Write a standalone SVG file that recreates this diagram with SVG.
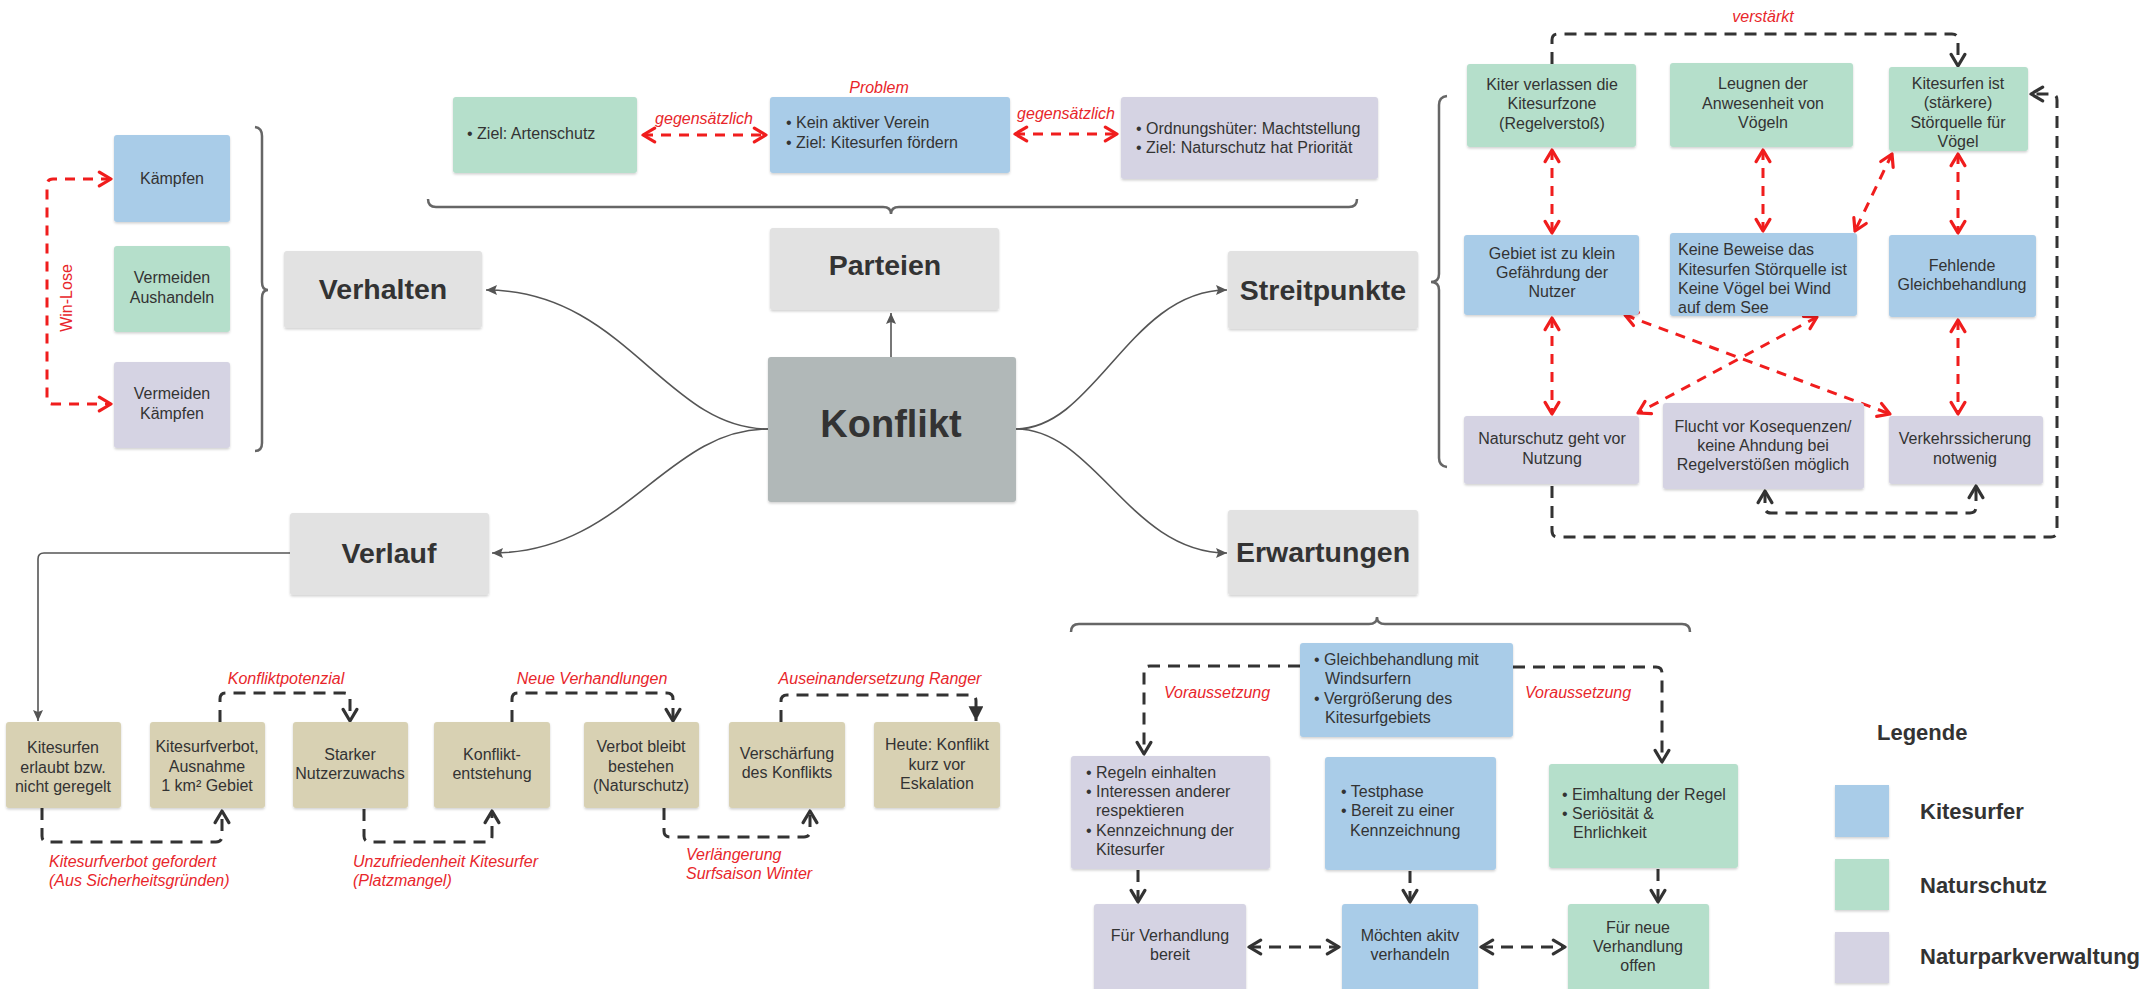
<svg xmlns="http://www.w3.org/2000/svg" width="2154" height="989" viewBox="0 0 2154 989">
<style>
text{font-family:"Liberation Sans",Arial,sans-serif;fill:#333;}
.t{font-size:16px;text-anchor:middle;}
.l{font-size:16px;}
.h{font-size:28.5px;font-weight:bold;text-anchor:middle;}
.r{font-size:16px;font-style:italic;fill:#e8262b;}
.rc{font-size:16px;font-style:italic;fill:#e8262b;text-anchor:middle;}
.lg{font-size:22px;font-weight:bold;}
.blue{fill:#a9cce8;}
.green{fill:#b5dfcb;}
.purple{fill:#d5d3e3;}
.tan{fill:#d8d1b3;}
.grey{fill:#e2e2e2;}
.konf{fill:#b1b8b8;}
rect{filter:url(#sh);}
.mm{fill:none;stroke:#555;stroke-width:1.6;}
.rd{fill:none;stroke:#f01d1d;stroke-width:3;stroke-dasharray:10 8;}
.kd{fill:none;stroke:#333;stroke-width:3;stroke-dasharray:12 8;}
.br{fill:none;stroke:#666;stroke-width:2.5;}
</style>
<defs>
<filter id="sh" x="-5%" y="-5%" width="110%" height="115%">
<feDropShadow dx="0" dy="1.5" stdDeviation="1" flood-color="#000" flood-opacity="0.18"/>
</filter>
<marker id="ro" markerUnits="userSpaceOnUse" markerWidth="18" markerHeight="18" viewBox="-2 -2 16 17" refX="11" refY="6.5" orient="auto-start-reverse">
<path d="M0,0 L11,6.5 L0,13" fill="none" stroke="#f01d1d" stroke-width="3" stroke-dasharray="none" stroke-linecap="round" stroke-linejoin="round"/>
</marker>
<marker id="ko" markerUnits="userSpaceOnUse" markerWidth="18" markerHeight="18" viewBox="-2 -2 16 17" refX="11" refY="6.5" orient="auto-start-reverse">
<path d="M0,0 L11,6.5 L0,13" fill="none" stroke="#333" stroke-width="3" stroke-dasharray="none" stroke-linecap="round" stroke-linejoin="round"/>
</marker>
<marker id="kf" markerUnits="userSpaceOnUse" markerWidth="16" markerHeight="16" viewBox="0 0 14 14" refX="13" refY="6.5" orient="auto">
<path d="M0,0 L13,6.5 L0,13 Z" fill="#333"/>
</marker>
<marker id="gf" markerUnits="userSpaceOnUse" markerWidth="12" markerHeight="12" viewBox="0 0 12 12" refX="11" refY="5" orient="auto">
<path d="M0,0 L11,5 L0,10 L2,5 Z" fill="#555"/>
</marker>
</defs>

<g id="braces">
<path class="br" d="M255,127 Q262,128 262,136 V282 Q262,290 268,290 Q262,290 262,298 V443 Q262,451 255,451"/>
<path class="br" d="M428,199 Q428,207 436,207 H883 Q891,207 891,214 Q891,207 899,207 H1349 Q1357,207 1357,199"/>
<path class="br" d="M1447,96 Q1439,97 1439,105 V274 Q1439,282 1431,282 Q1439,282 1439,290 V458 Q1439,466 1447,467"/>
<path class="br" d="M1071,632 Q1071,624 1079,624 H1369 Q1377,624 1377,617 Q1377,624 1385,624 H1682 Q1690,624 1690,632"/>
</g>

<g id="connectors">
<path class="mm" d="M768,429 C665,429 625,290 486,290" marker-end="url(#gf)"/>
<path class="mm" d="M768,429 C665,429 625,553 492,553" marker-end="url(#gf)"/>
<path class="mm" d="M1016,429 C1095,429 1130,290 1227,290" marker-end="url(#gf)"/>
<path class="mm" d="M1016,429 C1095,429 1130,553 1227,553" marker-end="url(#gf)"/>
<path class="mm" d="M891,357 V313" marker-end="url(#gf)"/>
<path class="mm" d="M290,553 H44 Q38,553 38,559 V721" marker-end="url(#gf)"/>

<path class="rd" d="M111,179 H53 Q47,179 47,185 V398 Q47,404 53,404 H111" marker-start="url(#ro)" marker-end="url(#ro)"/>

<path class="rd" d="M643,135 H766" marker-start="url(#ro)" marker-end="url(#ro)"/>
<path class="rd" d="M1015,134 H1117" marker-start="url(#ro)" marker-end="url(#ro)"/>

<path class="kd" d="M1552,64 V40 Q1552,34 1558,34 H1952 Q1958,34 1958,40 V66" marker-end="url(#ko)"/>
<path class="rd" d="M1552,150 V233" marker-start="url(#ro)" marker-end="url(#ro)"/>
<path class="rd" d="M1763,150 V231" marker-start="url(#ro)" marker-end="url(#ro)"/>
<path class="rd" d="M1892,154 L1855,231" marker-start="url(#ro)" marker-end="url(#ro)"/>
<path class="rd" d="M1958,154 V233" marker-start="url(#ro)" marker-end="url(#ro)"/>
<path class="rd" d="M1552,318 V414" marker-start="url(#ro)" marker-end="url(#ro)"/>
<path class="rd" d="M1958,320 V414" marker-start="url(#ro)" marker-end="url(#ro)"/>
<path class="rd" d="M1625,315 L1890,414" marker-start="url(#ro)" marker-end="url(#ro)"/>
<path class="rd" d="M1817,317 L1638,413" marker-start="url(#ro)" marker-end="url(#ro)"/>
<path class="kd" d="M1765,491 V507 Q1765,513 1771,513 H1970 Q1976,513 1976,507 V486" marker-start="url(#ko)" marker-end="url(#ko)"/>
<path class="kd" d="M1552,486 V531 Q1552,537 1558,537 H2051 Q2057,537 2057,531 V100 Q2057,94 2051,94 H2031" marker-end="url(#ko)"/>

<path class="kd" d="M220,722 V699 Q220,693 226,693 H344 Q350,693 350,699 V721" marker-end="url(#ko)"/>
<path class="kd" d="M512,722 V699 Q512,693 518,693 H667 Q673,693 673,699 V721" marker-end="url(#ko)"/>
<path class="kd" d="M781,722 V701 Q781,695 787,695 H970 Q976,695 976,701 V721" marker-end="url(#kf)"/>
<path class="kd" d="M42,808 V836 Q42,842 48,842 H216 Q222,842 222,836 V811" marker-end="url(#ko)"/>
<path class="kd" d="M364,809 V836 Q364,842 370,842 H486 Q492,842 492,836 V811" marker-end="url(#ko)"/>
<path class="kd" d="M664,808 V831 Q664,837 670,837 H804 Q810,837 810,831 V811" marker-end="url(#ko)"/>

<path class="kd" d="M1300,666 H1150 Q1144,666 1144,672 V754" marker-end="url(#ko)"/>
<path class="kd" d="M1513,667 H1656 Q1662,667 1662,673 V762" marker-end="url(#ko)"/>
<path class="kd" d="M1138,870 V902" marker-end="url(#ko)"/>
<path class="kd" d="M1410,871 V902" marker-end="url(#ko)"/>
<path class="kd" d="M1658,869 V902" marker-end="url(#ko)"/>
<path class="kd" d="M1249,947 H1339" marker-start="url(#ko)" marker-end="url(#ko)"/>
<path class="kd" d="M1481,947 H1565" marker-start="url(#ko)" marker-end="url(#ko)"/>
</g>

<g id="labels">
<text class="r" transform="translate(72,298) rotate(-90)" text-anchor="middle" style="font-style:normal">Win-Lose</text>
<text class="rc" x="879" y="93">Problem</text>
<text class="rc" x="704" y="124">gegensätzlich</text>
<text class="rc" x="1066" y="119">gegensätzlich</text>
<text class="rc" x="1763" y="22">verstärkt</text>
<text class="rc" x="286" y="684">Konfliktpotenzial</text>
<text class="rc" x="592" y="684">Neue Verhandlungen</text>
<text class="rc" x="880" y="684">Auseinandersetzung Ranger</text>
<text class="r" x="49" y="867">Kitesurfverbot gefordert</text>
<text class="r" x="49" y="886">(Aus Sicherheitsgründen)</text>
<text class="r" x="353" y="867">Unzufriedenheit Kitesurfer</text>
<text class="r" x="353" y="886">(Platzmangel)</text>
<text class="r" x="686" y="860">Verlängerung</text>
<text class="r" x="686" y="879">Surfsaison Winter</text>
<text class="r" x="1164" y="698">Voraussetzung</text>
<text class="r" x="1525" y="698">Voraussetzung</text>
</g>

<g id="n-konflikt"><rect class="konf" x="768" y="357" width="248" height="145" rx="3"/><text x="891" y="437" style="font-size:38px;font-weight:bold;text-anchor:middle">Konflikt</text></g>
<g id="n-parteien"><rect class="grey" x="770" y="228" width="229" height="82" rx="3"/><text class="h" x="885" y="275">Parteien</text></g>
<g id="n-verhalten"><rect class="grey" x="284" y="251" width="198" height="77" rx="3"/><text class="h" x="383" y="299">Verhalten</text></g>
<g id="n-streitpunkte"><rect class="grey" x="1228" y="251" width="190" height="78" rx="3"/><text class="h" x="1323" y="300">Streitpunkte</text></g>
<g id="n-verlauf"><rect class="grey" x="290" y="513" width="199" height="82" rx="3"/><text class="h" x="389" y="563">Verlauf</text></g>
<g id="n-erwartungen"><rect class="grey" x="1228" y="510" width="190" height="85" rx="3"/><text class="h" x="1323" y="562">Erwartungen</text></g>

<g id="n-kaempfen"><rect class="blue" x="114" y="135" width="116" height="87" rx="3"/><text class="t" x="172" y="184">Kämpfen</text></g>
<g id="n-aushandeln"><rect class="green" x="114" y="246" width="116" height="86" rx="3"/><text class="t" x="172" y="283">Vermeiden</text><text class="t" x="172" y="303">Aushandeln</text></g>
<g id="n-vkaempfen"><rect class="purple" x="114" y="362" width="116" height="86" rx="3"/><text class="t" x="172" y="399">Vermeiden</text><text class="t" x="172" y="419">Kämpfen</text></g>

<g id="n-p-natur"><rect class="green" x="453" y="97" width="184" height="76" rx="3"/><text class="l" x="467" y="139">• Ziel: Artenschutz</text></g>
<g id="n-p-kite"><rect class="blue" x="770" y="97" width="240" height="76" rx="3"/><text class="l" x="786" y="128">• Kein aktiver Verein</text><text class="l" x="786" y="148">• Ziel: Kitesurfen fördern</text></g>
<g id="n-p-park"><rect class="purple" x="1121" y="97" width="257" height="82" rx="3"/><text class="l" x="1136" y="134">• Ordnungshüter: Machtstellung</text><text class="l" x="1136" y="153">• Ziel: Naturschutz hat Priorität</text></g>

<g id="n-s-kiter"><rect class="green" x="1467" y="64" width="169" height="83" rx="3"/><text class="t" x="1552" y="90">Kiter verlassen die</text><text class="t" x="1552" y="109">Kitesurfzone</text><text class="t" x="1552" y="129">(Regelverstoß)</text></g>
<g id="n-s-leugnen"><rect class="green" x="1670" y="63" width="183" height="84" rx="3"/><text class="t" x="1763" y="89">Leugnen der</text><text class="t" x="1763" y="109">Anwesenheit von</text><text class="t" x="1763" y="128">Vögeln</text></g>
<g id="n-s-stoer"><rect class="green" x="1889" y="67" width="139" height="84" rx="3"/><text class="t" x="1958" y="89">Kitesurfen ist</text><text class="t" x="1958" y="108">(stärkere)</text><text class="t" x="1958" y="128">Störquelle für</text><text class="t" x="1958" y="147">Vögel</text></g>
<g id="n-s-gebiet"><rect class="blue" x="1464" y="235" width="175" height="80" rx="3"/><text class="t" x="1552" y="259">Gebiet ist zu klein</text><text class="t" x="1552" y="278">Gefährdung der</text><text class="t" x="1552" y="297">Nutzer</text></g>
<g id="n-s-beweise"><rect class="blue" x="1670" y="233" width="187" height="83" rx="3"/><text class="l" x="1678" y="255">Keine Beweise das</text><text class="l" x="1678" y="275">Kitesurfen Störquelle ist</text><text class="l" x="1678" y="294">Keine Vögel bei Wind</text><text class="l" x="1678" y="313">auf dem See</text></g>
<g id="n-s-gleich"><rect class="blue" x="1889" y="235" width="147" height="82" rx="3"/><text class="t" x="1962" y="271">Fehlende</text><text class="t" x="1962" y="290">Gleichbehandlung</text></g>
<g id="n-s-natur"><rect class="purple" x="1464" y="416" width="175" height="68" rx="3"/><text class="t" x="1552" y="444">Naturschutz geht vor</text><text class="t" x="1552" y="464">Nutzung</text></g>
<g id="n-s-flucht"><rect class="purple" x="1663" y="403" width="201" height="86" rx="3"/><text class="t" x="1763" y="432">Flucht vor Kosequenzen/</text><text class="t" x="1763" y="451">keine Ahndung bei</text><text class="t" x="1763" y="470">Regelverstößen möglich</text></g>
<g id="n-s-verkehr"><rect class="purple" x="1889" y="416" width="154" height="68" rx="3"/><text class="t" x="1965" y="444">Verkehrssicherung</text><text class="t" x="1965" y="464">notwenig</text></g>

<g id="n-v1"><rect class="tan" x="6" y="722" width="115" height="86" rx="3"/><text class="t" x="63" y="753">Kitesurfen</text><text class="t" x="63" y="773">erlaubt bzw.</text><text class="t" x="63" y="792">nicht geregelt</text></g>
<g id="n-v2"><rect class="tan" x="150" y="722" width="115" height="86" rx="3"/><text class="t" x="207" y="752">Kitesurfverbot,</text><text class="t" x="207" y="772">Ausnahme</text><text class="t" x="207" y="791">1 km² Gebiet</text></g>
<g id="n-v3"><rect class="tan" x="293" y="722" width="115" height="86" rx="3"/><text class="t" x="350" y="760">Starker</text><text class="t" x="350" y="779">Nutzerzuwachs</text></g>
<g id="n-v4"><rect class="tan" x="434" y="722" width="116" height="86" rx="3"/><text class="t" x="492" y="760">Konflikt-</text><text class="t" x="492" y="779">entstehung</text></g>
<g id="n-v5"><rect class="tan" x="584" y="722" width="115" height="86" rx="3"/><text class="t" x="641" y="752">Verbot bleibt</text><text class="t" x="641" y="772">bestehen</text><text class="t" x="641" y="791">(Naturschutz)</text></g>
<g id="n-v6"><rect class="tan" x="729" y="722" width="116" height="86" rx="3"/><text class="t" x="787" y="759">Verschärfung</text><text class="t" x="787" y="778">des Konflikts</text></g>
<g id="n-v7"><rect class="tan" x="874" y="722" width="126" height="86" rx="3"/><text class="t" x="937" y="750">Heute: Konflikt</text><text class="t" x="937" y="770">kurz vor</text><text class="t" x="937" y="789">Eskalation</text></g>

<g id="n-e-top"><rect class="blue" x="1300" y="643" width="213" height="94" rx="3"/><text class="l" x="1314" y="665">• Gleichbehandlung mit</text><text class="l" x="1325" y="684">Windsurfern</text><text class="l" x="1314" y="704">• Vergrößerung des</text><text class="l" x="1325" y="723">Kitesurfgebiets</text></g>
<g id="n-e-regeln"><rect class="purple" x="1071" y="756" width="199" height="113" rx="3"/><text class="l" x="1086" y="778">• Regeln einhalten</text><text class="l" x="1086" y="797">• Interessen anderer</text><text class="l" x="1096" y="816">respektieren</text><text class="l" x="1086" y="836">• Kennzeichnung der</text><text class="l" x="1096" y="855">Kitesurfer</text></g>
<g id="n-e-test"><rect class="blue" x="1325" y="757" width="171" height="113" rx="3"/><text class="l" x="1341" y="797">• Testphase</text><text class="l" x="1341" y="816">• Bereit zu einer</text><text class="l" x="1350" y="836">Kennzeichnung</text></g>
<g id="n-e-ehr"><rect class="green" x="1549" y="764" width="189" height="104" rx="3"/><text class="l" x="1562" y="800">• Eimhaltung der Regel</text><text class="l" x="1562" y="819">• Seriösität &amp;</text><text class="l" x="1573" y="838">Ehrlichkeit</text></g>
<g id="n-e-bereit"><rect class="purple" x="1094" y="904" width="152" height="100" rx="3"/><text class="t" x="1170" y="941">Für Verhandlung</text><text class="t" x="1170" y="960">bereit</text></g>
<g id="n-e-aktiv"><rect class="blue" x="1342" y="904" width="136" height="100" rx="3"/><text class="t" x="1410" y="941">Möchten akitv</text><text class="t" x="1410" y="960">verhandeln</text></g>
<g id="n-e-offen"><rect class="green" x="1568" y="904" width="141" height="100" rx="3"/><text class="t" x="1638" y="933">Für neue</text><text class="t" x="1638" y="952">Verhandlung</text><text class="t" x="1638" y="971">offen</text></g>

<g id="legend">
<text class="lg" x="1877" y="740">Legende</text>
<rect class="blue" x="1835" y="785" width="54" height="52"/>
<rect class="green" x="1835" y="859" width="54" height="51"/>
<rect class="purple" x="1835" y="932" width="54" height="51"/>
<text class="lg" x="1920" y="819">Kitesurfer</text>
<text class="lg" x="1920" y="893">Naturschutz</text>
<text class="lg" x="1920" y="964">Naturparkverwaltung</text>
</g>
</svg>
